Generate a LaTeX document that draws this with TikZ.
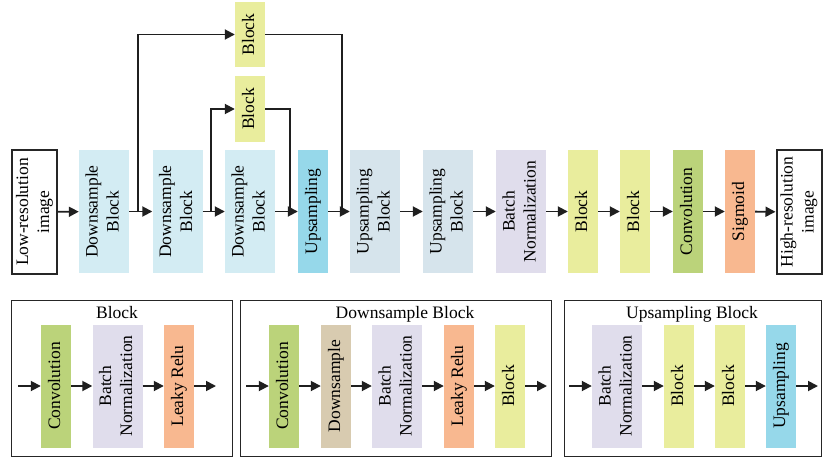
\documentclass[tikz,border=0pt]{standalone}
\usepackage{fontspec}
\usepackage{graphicx}
\setmainfont{Liberation Serif}
\usetikzlibrary{arrows.meta}
\definecolor{cdsb}{RGB}{211,236,243}
\definecolor{cup}{RGB}{150,216,234}
\definecolor{cupb}{RGB}{214,228,236}
\definecolor{cbn}{RGB}{224,221,236}
\definecolor{cblk}{RGB}{233,237,157}
\definecolor{cconv}{RGB}{187,211,122}
\definecolor{corg}{RGB}{248,184,144}
\definecolor{cdown}{RGB}{216,203,176}
\newcommand\rottxt[1]{\rotatebox{90}{\begin{tabular}{@{}c@{}}#1\end{tabular}}}
\begin{document}
\begin{tikzpicture}[x=1pt,y=-1pt,
  font=\fontsize{17.5}{21}\selectfont,
  blk/.style={draw=none, fill=#1, inner sep=0pt, minimum height=123pt},
  wide/.style={minimum width=50pt},
  thin/.style={minimum width=30pt},
  io/.style={draw=black!85, line width=2pt, fill=white, inner sep=0pt, minimum width=45pt, minimum height=124pt},
  arr/.style={line width=1.8pt, black!88, -{Triangle[length=10pt,width=10pt]}},
  ln/.style={line width=1.8pt, black!88},
  frame/.style={draw=black!85, line width=1pt}]
\useasboundingbox (0,0) rectangle (825,461);
% top row
\node[io] (lr) at (34.5,212) {\rottxt{Low-resolution\\image}};
\node[blk=cdsb,wide] (ds1) at (104,211.5) {\rottxt{Downsample\\Block}};
\node[blk=cdsb,wide] (ds2) at (177.5,211.5) {\rottxt{Downsample\\Block}};
\node[blk=cdsb,wide] (ds3) at (250,211.5) {\rottxt{Downsample\\Block}};
\node[blk=cup,thin] (up) at (313,211.5) {\rottxt{Upsampling}};
\node[blk=cupb,wide] (ub1) at (375,211.5) {\rottxt{Upsampling\\Block}};
\node[blk=cupb,wide] (ub2) at (448,211.5) {\rottxt{Upsampling\\Block}};
\node[blk=cbn,wide] (bn) at (521,211.5) {\rottxt{Batch\\Normalization}};
\node[blk=cblk,thin] (b1) at (583,211.5) {\rottxt{Block}};
\node[blk=cblk,thin] (b2) at (635,211.5) {\rottxt{Block}};
\node[blk=cconv,thin] (conv) at (688,211.5) {\rottxt{Convolution}};
\node[blk=corg,thin] (sig) at (740,211.5) {\rottxt{Sigmoid}};
\node[io] (hr) at (799,212) {\rottxt{High-resolution\\image}};
% skip blocks
\node[blk=cblk,thin,minimum height=65pt] (bt) at (250,34.5) {\rottxt{Block}};
\node[blk=cblk,thin,minimum height=66pt] (bl) at (250,109) {\rottxt{Block}};
\coordinate (j1) at (138,212);
\coordinate (j2) at (211,212);
\coordinate (j3) at (290,212);
\coordinate (j4) at (342,212);
\draw[arr] (lr) -- (ds1);
\draw[arr] (ds1) -- (ds2);
\draw[arr] (ds2) -- (ds3);
\draw[arr] (ds3) -- (up);
\draw[arr] (up) -- (ub1);
\draw[arr] (ub1) -- (ub2);
\draw[arr] (ub2) -- (bn);
\draw[arr] (bn) -- (b1);
\draw[arr] (b1) -- (b2);
\draw[arr] (b2) -- (conv);
\draw[arr] (conv) -- (sig);
\draw[arr] (sig) -- (hr);
\draw[arr,rounded corners=0pt] (j1) |- (bt.west);
\draw[ln] (bt.east) -| (j4);
\draw[arr] (j2) |- (bl.west);
\draw[ln] (bl.east) -| (j3);
% panel 1
\draw[frame] (11,300) rectangle (232,456);
\node[anchor=base] (t1) at (117,318) {Block};
\node[blk=cconv,thin] (p1a) at (56,386) {\rottxt{Convolution}};
\node[blk=cbn,wide] (p1b) at (117.5,386) {\rottxt{Batch\\Normalization}};
\node[blk=corg,thin] (p1c) at (179,386) {\rottxt{Leaky Relu}};
\coordinate (p1in) at (18,386);
\coordinate (p1out) at (216,386);
\draw[arr] (p1in) -- (p1a);
\draw[arr] (p1a) -- (p1b);
\draw[arr] (p1b) -- (p1c);
\draw[arr] (p1c) -- (p1out);
% panel 2
\draw[frame] (240,300) rectangle (551,456);
\node[anchor=base] (t2) at (405,318) {Downsample Block};
\node[blk=cconv,thin] (p2a) at (284,386) {\rottxt{Convolution}};
\node[blk=cdown,thin] (p2b) at (336,386) {\rottxt{Downsample}};
\node[blk=cbn,wide] (p2c) at (397,386) {\rottxt{Batch\\Normalization}};
\node[blk=corg,thin] (p2d) at (459,386) {\rottxt{Leaky Relu}};
\node[blk=cblk,thin] (p2e) at (510,386) {\rottxt{Block}};
\coordinate (p2in) at (246,386);
\coordinate (p2out) at (547,386);
\draw[arr] (p2in) -- (p2a);
\draw[arr] (p2a) -- (p2b);
\draw[arr] (p2b) -- (p2c);
\draw[arr] (p2c) -- (p2d);
\draw[arr] (p2d) -- (p2e);
\draw[arr] (p2e) -- (p2out);
% panel 3
\draw[frame] (564,300) rectangle (821,456);
\node[anchor=base] (t3) at (692,318) {Upsampling Block};
\node[blk=cbn,wide] (p3a) at (617,386) {\rottxt{Batch\\Normalization}};
\node[blk=cblk,thin] (p3b) at (679,386) {\rottxt{Block}};
\node[blk=cblk,thin] (p3c) at (730,386) {\rottxt{Block}};
\node[blk=cup,thin] (p3d) at (781,386) {\rottxt{Upsampling}};
\coordinate (p3in) at (569,386);
\coordinate (p3out) at (818,386);
\draw[arr] (p3in) -- (p3a);
\draw[arr] (p3a) -- (p3b);
\draw[arr] (p3b) -- (p3c);
\draw[arr] (p3c) -- (p3d);
\draw[arr] (p3d) -- (p3out);
\end{tikzpicture}
\end{document}
